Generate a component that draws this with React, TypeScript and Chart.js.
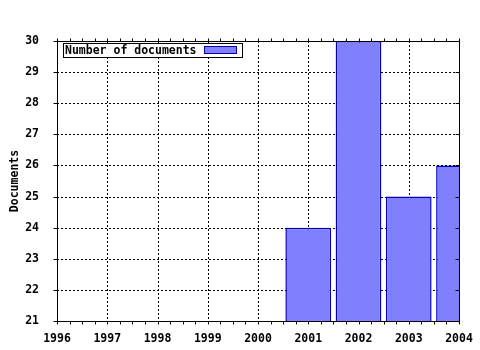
import React, { useEffect, useRef } from "react";
import { Chart, registerables } from "chart.js";

Chart.register(...registerables);

// ---- data ----
const yearTicks = [1996, 1997, 1998, 1999, 2000, 2001, 2002, 2003, 2004];
const barYears = [2001, 2002, 2003, 2004];
const docCounts = [24, 30, 25, 26];
const yTickValues = [21, 22, 23, 24, 25, 26, 27, 28, 29, 30];
const seriesLabel = "Number of documents";
const yAxisTitle = "Documents";

const FONT = '"DejaVu Sans Mono", "Liberation Mono", monospace';
const BAR_FILL = "#8080ff";
const BAR_EDGE = "#0000b0";

const framePlugin = {
  id: "frame",
  beforeDatasetsDraw(chart: any) {
    const { ctx, chartArea: a, scales } = chart;
    const x = scales.x;
    const y = scales.y;
    ctx.save();
    ctx.strokeStyle = "#000";
    ctx.lineWidth = 1;
    ctx.setLineDash([2, 2]);
    for (const yr of yearTicks) {
      const px = Math.round(x.getPixelForValue(yr)) + 0.5;
      ctx.beginPath();
      ctx.moveTo(px, a.top);
      ctx.lineTo(px, a.bottom);
      ctx.stroke();
    }
    for (const v of yTickValues) {
      const py = Math.round(y.getPixelForValue(v)) + 0.5;
      ctx.beginPath();
      ctx.moveTo(a.left, py);
      ctx.lineTo(a.right, py);
      ctx.stroke();
    }
    ctx.restore();
  },
  afterDatasetsDraw(chart: any) {
    const { ctx, chartArea: a, scales } = chart;
    const x = scales.x;
    const y = scales.y;
    const L = Math.round(a.left) + 0.5;
    const R = Math.round(a.right) + 0.5;
    const T = Math.round(a.top) + 0.5;
    const B = Math.round(a.bottom) + 0.5;
    ctx.save();
    ctx.strokeStyle = "#000";
    ctx.lineWidth = 1;
    ctx.setLineDash([]);
    ctx.strokeRect(L, T, R - L, B - T);
    ctx.beginPath();
    // x ticks: majors and quarter minors, bottom (down) and top (up)
    for (let i = 0; i < yearTicks.length; i++) {
      for (let q = 0; q < 4; q++) {
        if (i === yearTicks.length - 1 && q > 0) break;
        const val = yearTicks[i] + q * 0.25;
        const px = Math.round(x.getPixelForValue(val)) + 0.5;
        ctx.moveTo(px, B);
        ctx.lineTo(px, B + 3);
        ctx.moveTo(px, T);
        ctx.lineTo(px, T - 3);
      }
    }
    // y ticks: left (outward) and right (inward)
    for (const v of yTickValues) {
      const py = Math.round(y.getPixelForValue(v)) + 0.5;
      ctx.moveTo(L, py);
      ctx.lineTo(L - 4, py);
      ctx.moveTo(R, py);
      ctx.lineTo(R - 4, py);
    }
    ctx.stroke();

    // legend
    const lx = a.left + 6.5;
    const ly = a.top + 2.5;
    const lw = 179;
    const lh = 14;
    ctx.fillStyle = "#fff";
    ctx.fillRect(lx, ly, lw, lh);
    ctx.strokeRect(lx, ly, lw, lh);
    ctx.fillStyle = "#000";
    ctx.font = `bold 11.5px ${FONT}`;
    ctx.textBaseline = "middle";
    ctx.textAlign = "left";
    ctx.fillText(seriesLabel, lx + 1.5, ly + lh / 2 + 0.5);
    ctx.fillStyle = BAR_FILL;
    ctx.fillRect(lx + 141, ly + 3, 32, 7);
    ctx.strokeStyle = BAR_EDGE;
    ctx.strokeRect(lx + 141, ly + 3, 32, 7);
    ctx.restore();
  },
};

export default function App() {
  const ref = useRef<HTMLCanvasElement | null>(null);
  useEffect(() => {
    if (!ref.current) return;
    const chart = new Chart(ref.current, {
      type: "bar",
      data: {
        datasets: [
          {
            label: seriesLabel,
            data: barYears.map((yr, i) => ({ x: yr, y: docCounts[i] })),
            backgroundColor: BAR_FILL,
            borderColor: BAR_EDGE,
            borderWidth: 1.5,
            barPercentage: 0.91,
            categoryPercentage: 1,
            clip: 0,
          } as any,
        ],
      },
      options: {
        animation: false,
        responsive: false,
        devicePixelRatio: 1,
        layout: { padding: { top: 41, right: 21, left: 0, bottom: 0 } },
        plugins: {
          legend: { display: false },
          tooltip: { enabled: false },
        },
        scales: {
          x: {
            type: "linear",
            min: 1996,
            max: 2004,
            offset: false,
            grid: { display: false },
            border: { display: false },
            ticks: {
              stepSize: 1,
              autoSkip: false,
              maxRotation: 0,
              padding: 3,
              color: "#000",
              font: { family: FONT, size: 11.5, weight: "bold" },
              callback: (v: any) => String(v),
            },
            afterFit: (s: any) => {
              s.height = 29;
            },
          },
          y: {
            type: "linear",
            min: 21,
            max: 30,
            grid: { display: false },
            border: { display: false },
            ticks: {
              stepSize: 1,
              padding: 10,
              color: "#000",
              font: { family: FONT, size: 11.5, weight: "bold" },
            },
            title: {
              display: true,
              text: yAxisTitle,
              color: "#000",
              font: { family: FONT, size: 11.5, weight: "bold" },
              padding: { top: 8, bottom: 0 },
            },
            afterFit: (s: any) => {
              s.width = 57;
            },
          },
        },
      } as any,
      plugins: [framePlugin],
    });
    return () => chart.destroy();
  }, []);
  return (
    <div style={{ position: "absolute", left: 0, top: 0, width: 480, height: 350, background: "#fff" }}>
      <canvas ref={ref} width={480} height={350} style={{ display: "block" }} />
    </div>
  );
}
